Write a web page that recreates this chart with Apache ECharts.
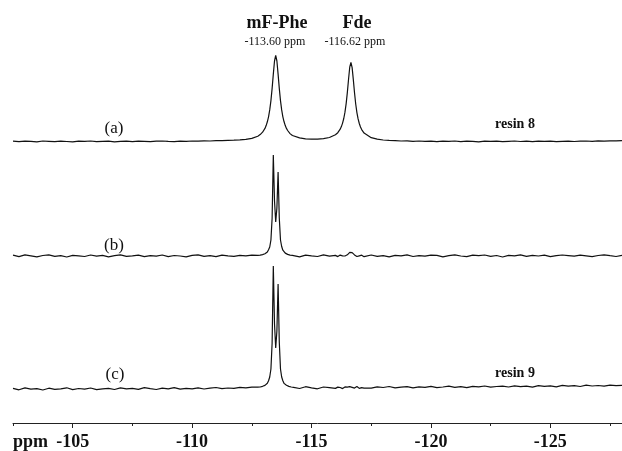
<!DOCTYPE html>
<html>
<head>
<meta charset="utf-8">
<script src="https://cdn.jsdelivr.net/npm/echarts@6/dist/echarts.min.js"></script>
<style>
html, body { margin: 0; padding: 0; background: #fff; }
#chart { width: 622px; height: 451px; }
</style>
</head>
<body>
<div id="chart"></div>
<script>
// chemical shift (ppm), finer steps around the two signals
const ppm = [
    -102.5, -102.75, -103, -103.25, -103.5, -103.75, -104, -104.25, -104.5, -104.75,
    -105, -105.25, -105.5, -105.75, -106, -106.25, -106.5, -106.75, -107, -107.25,
    -107.5, -107.75, -108, -108.25, -108.5, -108.75, -109, -109.25, -109.5, -109.75,
    -110, -110.25, -110.5, -110.75, -111, -111.25, -111.5, -111.75, -112, -112.25,
    -112.5, -112.75,
    -112.8, -112.85, -112.9, -112.95, -113, -113.05, -113.1, -113.15, -113.2, -113.25,
    -113.3, -113.35, -113.4, -113.45, -113.5, -113.55, -113.6, -113.65, -113.7, -113.75,
    -113.8, -113.85, -113.9, -113.95, -114, -114.05, -114.1, -114.15, -114.2,
    -114.25, -114.5, -114.75, -115, -115.25, -115.5, -115.75, -116,
    -116.1, -116.15, -116.2, -116.25, -116.3, -116.35, -116.4, -116.45, -116.5, -116.55,
    -116.6, -116.65, -116.7, -116.75, -116.8, -116.85, -116.9, -116.95, -117, -117.05,
    -117.1, -117.15, -117.2,
    -117.25, -117.5, -117.75, -118, -118.25, -118.5, -118.75, -119, -119.25, -119.5,
    -119.75, -120, -120.25, -120.5, -120.75, -121, -121.25, -121.5, -121.75, -122,
    -122.25, -122.5, -122.75, -123, -123.25, -123.5, -123.75, -124, -124.25, -124.5,
    -124.75, -125, -125.25, -125.5, -125.75, -126, -126.25, -126.5, -126.75, -127,
    -127.25, -127.5, -127.75, -128
];

// (a) resin 8
const traceA = [
    0.3, -0.2, 0.4, 0.1, -0.3, 0.5, 0.2, -0.1, 0.4, 0.0,
    -0.4, 0.3, 0.1, 0.5, -0.2, 0.2, 0.4, -0.3, 0.1, 0.3,
    -0.1, 0.4, 0.2, -0.2, 0.3, 0.5, 0.1, -0.2, 0.4, 0.2,
    0.5, 0.3, 0.6, 0.5, 0.8, 0.9, 1.2, 1.3, 1.6, 2.1,
    3.1, 5.3,
    6.0, 6.9, 7.9, 9.3, 11.0, 13.1, 15.9, 19.7, 24.7, 31.6,
    40.9, 53.1, 67.4, 80.5, 86.0, 80.5, 67.4, 53.1, 40.9, 31.6,
    24.7, 19.7, 15.9, 13.1, 11.0, 9.3, 7.9, 6.9, 6.0,
    5.7, 3.6, 2.7, 2.4, 2.4, 2.9, 4.0, 6.7,
    8.8, 10.4, 12.3, 14.9, 18.4, 23.0, 29.3, 37.9, 49.1, 62.3,
    74.3, 79.0, 73.9, 61.9, 48.7, 37.5, 28.9, 22.6, 18.0, 14.5,
    11.9, 10.0, 8.4,
    7.2, 3.8, 2.3, 1.5, 1.1, 0.9, 0.5, 0.7, 0.2, 0.5,
    0.1, 0.4, -0.2, 0.3, 0.1, 0.5, -0.1, 0.3, 0.2, -0.3,
    0.4, 0.1, 0.3, -0.2, 0.2, 0.5, 0.0, 0.3, -0.2, 0.4,
    0.1, 0.3, -0.1, 0.2, 0.4, 0.0, 0.3, 0.5, 0.2, 0.6,
    0.4, 0.7, 0.6, 0.8
];

// (b)
const traceB = [
    0.8, -0.6, 1.1, 0.2, -0.9, 0.5, 1.2, -0.3, 0.4, -1.0,
    0.7, 0.1, -0.5, 1.0, -0.2, 0.6, -0.8, 0.3, 1.1, -0.4,
    0.2, 0.9, -0.7, 0.4, -0.1, 1.0, -0.6, 0.5, 0.0, -0.9,
    0.6, 1.2, -0.3, 0.3, -0.7, 0.8, 0.1, -0.4, 0.7, 0.2,
    0.9, 0.6,
    1.3, 0.8, 1.6, 1.4, 2.3, 2.2, 3.5, 4.0, 6.2, 9.0,
    16, 38, 101, 55, 34, 48, 84, 38, 16, 9.5,
    5.8, 4.5, 2.9, 2.8, 1.6, 2.0, 0.9, 1.5, 0.7,
    0.4, -0.8, 0.9, 0.1, -0.5, 1.1, -0.2, 0.6,
    -0.6, 0.5, 0.9, -0.3, 0.2, 1.0, 0.0, 0.6, 1.2, 2.2,
    3.6, 4.6, 3.4, 2.0, 1.1, 0.4, -0.5, 0.7, 0.2, -0.4,
    0.8, 0.1, -0.7,
    0.5, 1.0, -0.4, 0.3, -0.9, 0.7, 0.2, 1.1, -0.5, 0.4,
    -0.2, 0.9, 0.6, -0.8, 0.3, 1.2, 0.0, -0.6, 0.8, 0.4,
    1.0, -0.3, 0.5, -1.0, 0.7, 0.2, 1.1, -0.4, 0.6, 0.0,
    0.9, -0.7, 0.3, 1.0, 0.4, -0.2, 0.8, 0.1, -0.6, 0.5,
    1.2, 0.3, -0.5, 0.7
];

// (c) resin 9
const traceC = [
    -0.4, -1.8, 0.1, -1.2, -0.6, -2.0, -0.2, -1.4, -0.9, 0.2,
    -1.6, -0.5, -1.1, 0.0, -1.7, -0.8, -0.3, -1.5, 0.1, -0.9,
    -0.4, -1.3, 0.3, -0.7, -1.5, -0.1, -0.9, 0.4, -1.2, -0.3,
    -0.8, 0.2, -1.0, -0.2, 0.5, -0.7, 0.0, -0.4, 0.6, 0.1,
    0.8, 0.9,
    1.6, 1.0, 2.1, 1.7, 2.8, 2.6, 4.3, 4.8, 7.2, 11,
    19, 45, 122, 64, 40, 57, 104, 46, 19, 11,
    7.3, 4.6, 4.2, 2.7, 2.6, 1.6, 2.0, 1.0, 1.5,
    0.6, -0.5, 1.3, 0.2, -0.8, 1.0, 0.3, -0.4,
    0.9, -0.3, 0.5, 1.4, -0.6, 0.2, 1.1, -0.2, 0.8, 0.0,
    1.3, -0.5, 0.6, 1.0, -0.1, 0.4, 1.5, 0.2, -0.4, 0.9,
    0.3, 1.2, -0.2,
    0.8, -0.2, 1.2, 0.5, 1.5, 0.1, 0.9, 1.3, 0.2, 1.1,
    0.6, 1.6, 0.4, 1.0, 1.8, 0.7, 1.3, 0.3, 1.7, 1.1,
    2.0, 0.8, 1.5, 1.9, 1.0, 2.2, 1.4, 1.8, 0.9, 2.3,
    1.6, 2.1, 1.2, 2.6, 1.8, 2.4, 1.5, 2.8, 2.0, 2.5,
    1.9, 2.9, 2.3, 2.6
];

const majorTicks = [-105, -110, -115, -120, -125];
const minorTicks = [-102.5, -107.5, -112.5, -117.5, -122.5, -127.5];

const peakNames = ['mF-Phe', 'Fde'];
const peakShifts = ['-113.60 ppm', '-116.62 ppm'];
const traceNames = ['(a)', '(b)', '(c)'];
const resinNames = ['resin 8', 'resin 9'];

// vertical stacking of the spectra, y axis in px units
const offsets = [281.5, 167, 35];

const serif = "'Liberation Serif', 'Times New Roman', serif";
const ink = '#111';

function stack(trace, off) {
    return ppm.map((x, i) => [x, trace[i] + off]);
}

function label(text, x, y, font, align) {
    return {
        type: 'text',
        x: x,
        y: y,
        silent: true,
        style: {
            text: text,
            font: font,
            fill: ink,
            textAlign: align || 'center',
            align: align || 'center',
            textVerticalAlign: 'middle',
            verticalAlign: 'middle'
        }
    };
}

const chart = echarts.init(document.getElementById('chart'), null, { renderer: 'canvas' });

const lineSeries = (name, data) => ({
    name: name,
    type: 'line',
    data: data,
    showSymbol: false,
    symbol: 'none',
    smooth: false,
    sampling: null,
    silent: true,
    lineStyle: { width: 1.2, color: ink },
    animation: false
});

chart.setOption({
    animation: false,
    backgroundColor: '#fff',
    grid: { left: 13, width: 612, top: 0, bottom: 28 },
    xAxis: [
        {
            type: 'value',
            position: 'bottom',
            inverse: true,
            min: -128,
            max: -102.5,
            axisLine: { show: true, lineStyle: { color: '#222', width: 1 } },
            axisTick: { show: true, customValues: minorTicks, length: 3, lineStyle: { color: '#222' } },
            axisLabel: { show: false },
            splitLine: { show: false }
        },
        {
            type: 'value',
            position: 'bottom',
            inverse: true,
            min: -128,
            max: -102.5,
            axisLine: { show: false },
            axisTick: { show: true, customValues: majorTicks, length: 5, lineStyle: { color: '#222' } },
            axisLabel: {
                show: true,
                customValues: majorTicks,
                margin: 10,
                color: ink,
                fontFamily: serif,
                fontWeight: 'bold',
                fontSize: 18,
                formatter: v => String(v)
            },
            splitLine: { show: false }
        }
    ],
    yAxis: { type: 'value', min: 0, max: 423, show: false },
    series: [
        lineSeries('a', stack(traceA, offsets[0])),
        lineSeries('b', stack(traceB, offsets[1])),
        lineSeries('c', stack(traceC, offsets[2]))
    ],
    graphic: [
        label(peakNames[0], 277, 23, 'bold 18px ' + serif),
        label(peakShifts[0], 275, 42, '12px ' + serif),
        label(peakNames[1], 357, 23, 'bold 18px ' + serif),
        label(peakShifts[1], 355, 42, '12px ' + serif),
        label(traceNames[0], 114, 129, '17px ' + serif),
        label(traceNames[1], 114, 246, '17px ' + serif),
        label(traceNames[2], 115, 375, '17px ' + serif),
        label(resinNames[0], 515, 124, 'bold 14px ' + serif),
        label(resinNames[1], 515, 373, 'bold 14px ' + serif),
        label('ppm', 13, 442, 'bold 18px ' + serif, 'left')
    ]
});
</script>
</body>
</html>
